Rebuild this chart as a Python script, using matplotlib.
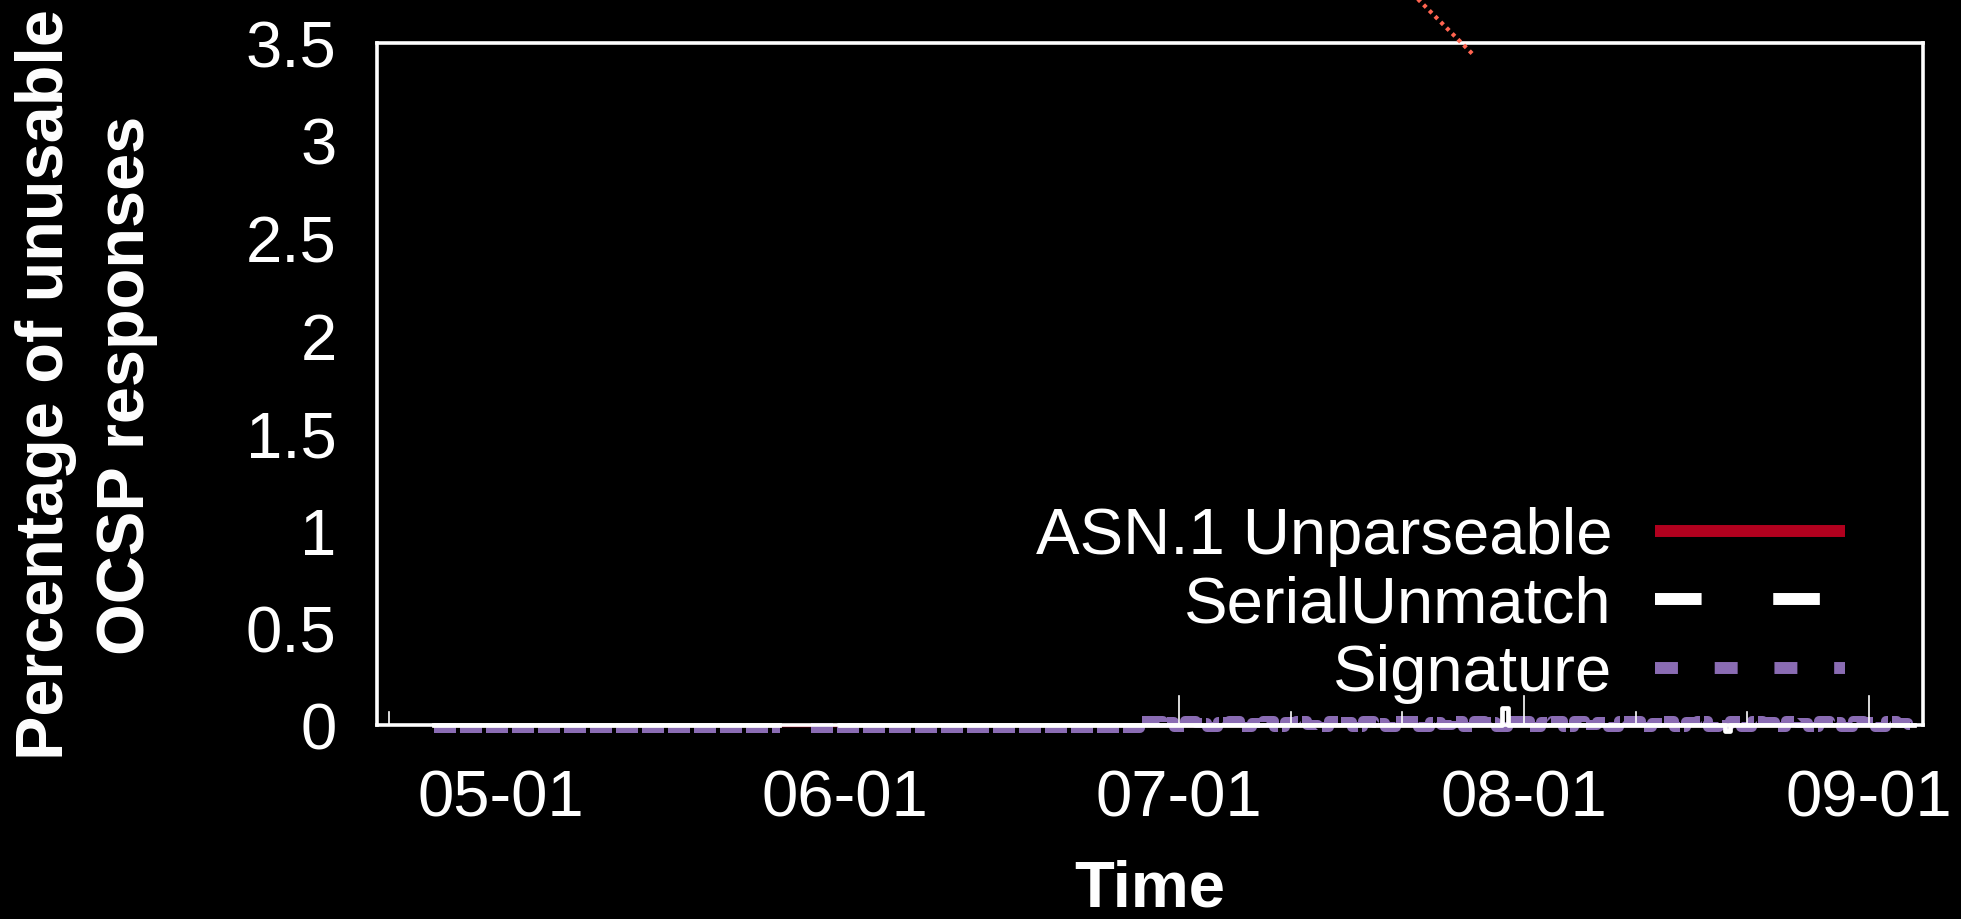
import numpy as np
import pandas as pd
import matplotlib
matplotlib.use('Agg')
import matplotlib.pyplot as plt
import matplotlib.dates as mdates
from matplotlib.lines import Line2D

plt.rcParams['font.family'] = ['Liberation Sans', 'DejaVu Sans']

def to_dt(lst):
    return pd.to_datetime(lst, format='ISO8601')

# values (percent of responses)
asn1_dates = ['2020-04-25', '2020-09-05']
asn1_vals = [0.0, 0.0]

serial_dates = ['2020-04-25', '2020-05-26', '2020-05-31 12:00', '2020-07-30', '2020-07-30 12:00',
                '2020-08-19', '2020-08-19 12:00', '2020-09-05']
serial_vals = [0.0, np.nan, 0.0, 0.085, 0.0, -0.03, 0.0, 0.0]

sig_dates_a = ['2020-04-25', '2020-05-26', '2020-05-26 06:00', '2020-05-31 12:00', '2020-06-27']
sig_vals_a = [-0.015, -0.015, np.nan, -0.015, -0.015]
sig_start_b = '2020-06-28'
sig_vals_b = [0.02, 0.02, 0.015,
              -0.01, 0.02, 0.01, -0.01, 0.015, 0.02, -0.01, 0.01, 0.02, -0.01, 0.015,
              0.02, 0.0, -0.01, 0.02, 0.015, -0.01, 0.02, 0.01, -0.01, 0.02, 0.02,
              -0.01, 0.015, 0.0, 0.02, -0.01, 0.02, 0.015, -0.01, 0.02,
              0.02, -0.01, 0.015, 0.02, -0.01, 0.02, 0.0, 0.015, -0.01, 0.02, 0.02,
              -0.01, 0.01, 0.02, -0.01, 0.015, 0.02, -0.01, 0.0, 0.02, -0.01, 0.02,
              0.015, -0.01, 0.02, 0.01, -0.01, 0.02, 0.015, -0.01, 0.02,
              0.015, -0.01, 0.02, 0.01, 0.0]

# stray dotted segment that runs out over the top border
stray_dates = ['2020-07-21 12:00', '2020-07-27 10:00']
stray_vals = [3.78, 3.44]

major_tick_dates = ['2020-07-01', '2020-08-01', '2020-09-01']
minor_tick_dates = ['2020-04-21', '2020-07-11', '2020-07-21', '2020-08-11', '2020-08-21']
label_dates = ['2020-05-01', '2020-06-01', '2020-07-01', '2020-08-01', '2020-09-01']
yticks = [0, 0.5, 1, 1.5, 2, 2.5, 3, 3.5]

red = '#b2001e'
purple = '#8a6cb3'
coral = '#ff6450'

sig_dates = list(to_dt(sig_dates_a)) + list(pd.date_range(sig_start_b, periods=len(sig_vals_b)))
sig_vals = sig_vals_a + sig_vals_b

fig = plt.figure(figsize=(19.61, 9.2), dpi=100, facecolor='black')
ax = fig.add_axes([377/1961, 194/920, 1546/1961, 682/920], facecolor='black')

ax.plot(to_dt(asn1_dates), asn1_vals, color=red, lw=2.5, zorder=1, clip_on=False)
ax.plot(sig_dates, sig_vals, color=purple, lw=7.2, dashes=(2.2, 0.4), dash_capstyle='butt',
        drawstyle='steps-mid', zorder=2, clip_on=False)
ax.plot(to_dt(serial_dates), serial_vals, color='white', lw=3.4, drawstyle='steps-post',
        zorder=3, clip_on=False)
ax.plot(to_dt(stray_dates), stray_vals, color=coral, lw=3.0, dashes=(0.9, 1.05),
        dash_capstyle='butt', zorder=6, clip_on=False)

for d in major_tick_dates:
    ax.axvline(pd.Timestamp(d), 0, 0.043, color='white', lw=1.2, zorder=4)
for d in minor_tick_dates:
    ax.axvline(pd.Timestamp(d), 0, 0.019, color='white', lw=1.2, zorder=4)

ax.set_xlim(pd.Timestamp('2020-04-19 22:00'), pd.Timestamp('2020-09-05 20:00'))
ax.set_ylim(0, 3.5)
ax.set_xticks(to_dt(label_dates))
ax.xaxis.set_major_formatter(mdates.DateFormatter('%m-%d'))
ax.set_yticks(yticks)
ax.set_yticklabels(['%g' % v for v in yticks])
ax.tick_params(axis='x', length=0, pad=31, labelsize=47, colors='white')
ax.tick_params(axis='y', length=0, pad=29, labelsize=47, colors='white')

for s in ax.spines.values():
    s.set_color('white')
    s.set_linewidth(2.6)
    s.set_zorder(5)

ax.set_ylabel('Percentage of unusable\nOCSP responses', fontsize=48, fontweight='bold',
              color='white', va='center', linespacing=1.4)
ax.yaxis.set_label_coords(-0.188, 0.5)
ax.set_xlabel('Time', fontsize=47, fontweight='bold', color='white', va='center')
ax.xaxis.set_label_coords(0.5, -0.24)

handles = [
    Line2D([], [], color=red, lw=8.6, solid_capstyle='butt'),
    Line2D([], [], color='white', lw=8.6, dashes=(3.9, 6.0), dash_capstyle='butt'),
    Line2D([], [], color=purple, lw=8.6, dashes=(1.92, 3.08), dash_capstyle='butt'),
]
labels = ['ASN.1 Unparseable', 'SerialUnmatch', 'Signature']
leg = ax.legend(handles, labels, loc='center right', bbox_to_anchor=(0.9496, 0.176),
                frameon=False, fontsize=47, markerfirst=False, handlelength=2.91,
                handletextpad=0.66, labelspacing=0.13, borderpad=0, borderaxespad=0)
for t in leg.get_texts():
    t.set_color('white')

fig.savefig('out.png', dpi=100, facecolor='black')
